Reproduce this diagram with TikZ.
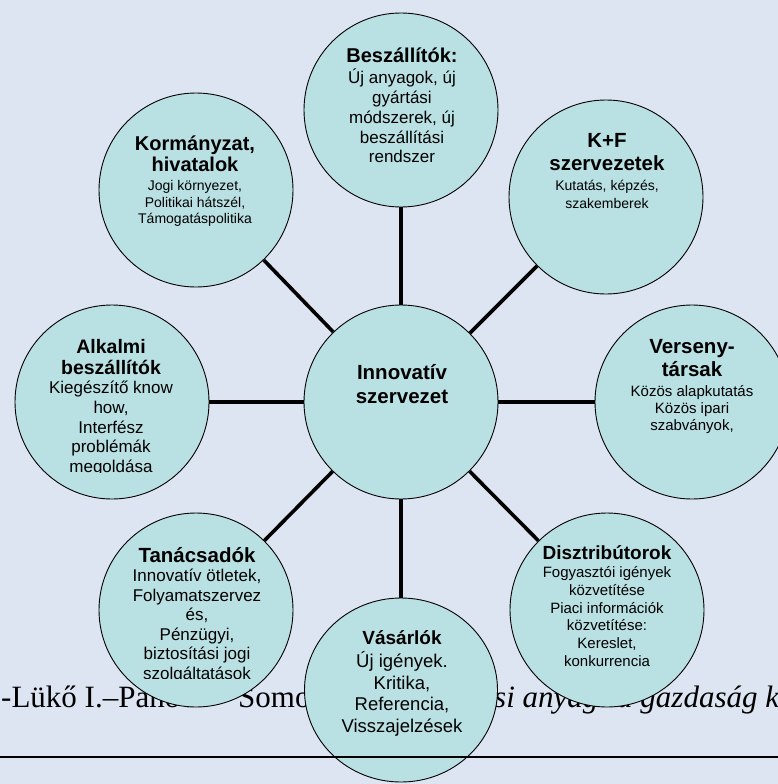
\documentclass[tikz,border=0pt]{standalone}
\usepackage{fontspec}
\setmainfont{Liberation Serif}
\newfontfamily\arialf{Liberation Sans}
\usetikzlibrary{shapes.geometric}
\definecolor{bgc}{HTML}{DCE5F1}
\definecolor{circfill}{HTML}{B9E0E3}
\newcommand\ttlfont[2]{\arialf\bfseries\fontsize{#1}{#2}\selectfont}
\newcommand\bdyfont[2]{\arialf\fontsize{#1}{#2}\selectfont}
\begin{document}
\begin{tikzpicture}[x=1pt,y=-1pt,
  shapebase/.style={draw=black, line width=0.9pt, fill=circfill, inner sep=0pt},
  circ/.style={shapebase, circle, minimum size=194pt},
  ovl/.style={shapebase, ellipse, minimum width=193pt, minimum height=184pt},
  conn/.style={line width=3.6pt, draw=black},
  txt/.style={align=center, inner sep=0pt, text=black},
  bgtext/.style={inner sep=0pt, anchor=base west, text=black, font=\fontsize{31}{31}\selectfont},
  rulestyle/.style={line width=2.6pt, draw=black}]
\clip (0,0) rectangle (778,784);
\fill[bgc] (0,0) rectangle (778,784);
% background text
\node[bgtext] (bt1) at (1,707) {-Lükő I.–Pánov};
\node[bgtext] (bt2) at (238,707) {Somog};
\node[bgtext, font=\fontsize{31}{31}\selectfont\itshape] (bt3) at (494,707) {si anyag};
\node[bgtext, font=\fontsize{31}{31}\selectfont\itshape] (bt4) at (617,707) {a gazdaság k};
% circles
\node[circ] (besz) at (401,110) {};
\node[circ] (kf) at (606,197) {};
\node[circ] (korm) at (196,190) {};
\node[circ] (alk) at (112,402) {};
\node[circ] (inn) at (401,402) {};
\node[circ] (vers) at (692,402) {};
\node[circ] (tan) at (196,610) {};
\node[circ] (disz) at (607,610) {};
\node[ovl] (vas) at (401,690) {};
% connectors
\draw[conn] (inn) -- (besz);
\draw[conn] (inn) -- (kf);
\draw[conn] (inn) -- (korm);
\draw[conn] (inn) -- (alk);
\draw[conn] (inn) -- (vers);
\draw[conn] (inn) -- (tan);
\draw[conn] (inn) -- (disz);
\draw[conn] (inn) -- (vas);
% texts
\node[txt, font=\ttlfont{20}{22}] (beszT) at (402,55) {Beszállítók:};
\node[txt, font=\bdyfont{17}{19.8}] (beszB) at (402,116) {Új anyagok, új\\gyártási\\módszerek, új\\beszállítási\\rendszer};
\node[txt, font=\ttlfont{20}{21}] (kormT) at (195,153.5) {Kormányzat,\\hivatalok};
\node[txt, font=\bdyfont{14}{16.7}] (kormB) at (195,203.5) {Jogi környezet,\\Politikai hátszél,\\Támogatáspolitika};
\node[txt, font=\ttlfont{20.5}{23}] (kfT) at (607,152.5) {K+F\\szervezetek};
\node[txt, font=\bdyfont{14}{18}] (kfB) at (607,194) {Kutatás, képzés,\\szakemberek};
\begin{scope}
\clip (10,300) rectangle (215,472);
\node[txt, font=\ttlfont{19.5}{20.5}] (alkT) at (111,357) {Alkalmi\\beszállítók};
\node[txt, font=\bdyfont{17}{19.7}] (alkB) at (111,428.5) {Kiegészítő know\\how,\\Interfész\\problémák\\megoldása};
\end{scope}
\node[txt, font=\ttlfont{20.5}{23}] (versT) at (692,358.5) {Verseny-\\társak};
\node[txt, font=\bdyfont{15}{17}] (versB) at (692,410) {Közös alapkutatás\\Közös ipari\\szabványok,};
\begin{scope}
\clip (95,520) rectangle (300,678);
\node[txt, font=\ttlfont{20.5}{22}] (tanT) at (197,555) {Tanácsadók};
\node[txt, font=\bdyfont{17}{19.5}] (tanB) at (197,626) {Innovatív ötletek,\\Folyamatszervez\\és,\\Pénzügyi,\\biztosítási jogi\\szolgáltatások};
\end{scope}
\node[txt, font=\ttlfont{19}{21}] (diszT) at (607,553) {Disztribútorok};
\node[txt, font=\bdyfont{15}{17.8}] (diszB) at (607,616.5) {Fogyasztói igények\\közvetítése\\Piaci információk\\közvetítése:\\Kereslet,\\konkurrencia};
\node[txt, font=\ttlfont{19}{21}] (vasT) at (402,638) {Vásárlók};
\node[txt, font=\bdyfont{18.5}{21.5}] (vasB) at (402,694) {Új igények.\\Kritika,\\Referencia,\\Visszajelzések};
\node[txt, font=\ttlfont{20.5}{24}] (innT) at (402,384) {Innovatív\\szervezet};
% bottom rule
\coordinate (ruleL) at (0,757);
\coordinate (ruleR) at (778,757);
\draw[rulestyle] (ruleL) -- (ruleR);
\end{tikzpicture}
\end{document}
